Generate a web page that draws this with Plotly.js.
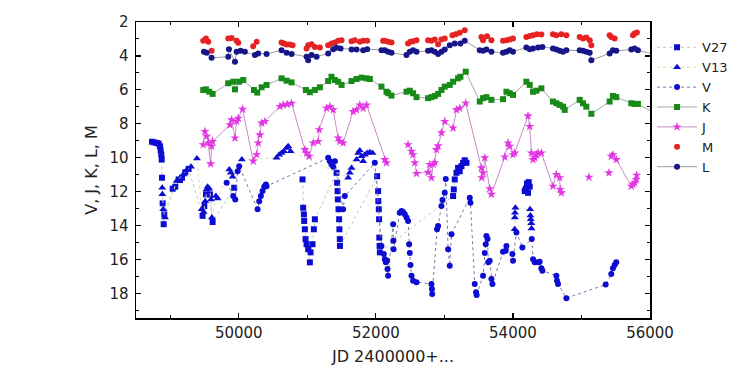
<!DOCTYPE html>
<html>
<head>
<meta charset="utf-8">
<script src="https://cdn.plot.ly/plotly-3.0.1.min.js"></script>
<style>html,body{margin:0;padding:0;background:#fff;}#chart{width:756px;height:382px;}</style>
</head>
<body>
<div id="chart"></div>
<script>
// ---- Data (JD 2400000+..., magnitude); null = gap in the connecting line ----
const v27JD = [48733,48767,48802,48831,48850,48860,48869,48875,48879,48889,48904,48913,49035,49073,49122,49142,49171,49219,49268,49472,49496,49521,49579,49618,49933,null,50930,50939,50950,50954,50964,50974,50989,51012,51037,51047,51076,51095,51110,51426,51435,51441,51445,51455,51464,51468,51474,51476,52019,52033,52036,52043,52047,52050,52054,52058,53127,53137,53151,53176,53200,53224,53249,53273,53297,53322,null,54172,54187,54205,54220,54230,54245];
const v27Mag = [9.06,9.10,9.13,9.17,9.33,9.57,9.82,10.11,11.18,12.69,13.92,13.34,11.83,11.71,11.28,11.32,11.18,10.86,10.66,13.43,12.85,12.16,12.16,13.79,11.77,null,11.28,12.95,13.34,13.73,14.22,14.80,15.10,15.39,16.17,15.58,15.10,14.22,13.63,10.89,11.48,11.97,12.46,13.04,13.63,14.22,14.80,15.20,11.09,11.97,12.56,13.04,13.63,14.71,15.20,15.58,12.26,11.87,11.28,10.89,10.60,10.80,10.50,10.30,10.15,10.30,null,11.97,11.83,11.52,12.07,11.44,11.71];

const v13JD = [48883,48885,48898,48923,49093,49190,49239,49302,49389,49458,49487,49510,49531,49545,49569,49594,49608,49666,49691,49861,49885,49910,50045,50551,50589,50624,50658,50697,50721,50756,51596,51620,51645,51718,51742,51766,51791,51815,51839,51873,51912,51951,null,54026,54028,54030,54036,54250,54255,54260,54268,54272];
const v13Mag = [11.77,12.16,13.04,13.53,11.38,10.99,10.74,10.54,10.05,13.04,13.20,12.56,11.87,11.71,11.83,12.46,13.53,12.26,12.40,10.69,10.89,11.13,10.11,10.01,9.82,9.72,9.62,9.43,9.33,9.62,11.18,10.89,10.60,10.11,9.72,9.57,9.92,10.21,9.82,9.72,9.68,9.72,null,14.22,13.53,13.24,12.95,13.04,13.40,13.63,13.87,14.18];

const vJD = [49823,49919,49948,49983,50006,50274,50298,50322,50347,50371,50395,50405,51304,51329,51353,51377,51402,51522,51547,51985,52082,52116,52131,52145,52164,52170,52179,52252,52255,52258,52349,52374,52397,52422,52447,52470,52485,52495,52505,52520,52543,52593,52811,52818,52822,52893,52908,52957,52972,53005,53020,53054,53078,53103,53370,53380,53443,53462,53470,53564,53589,53603,53613,53630,53640,53661,53686,53701,53855,53895,53905,53992,54001,54051,54138,54275,54294,54318,54367,54390,54415,54430,54634,54643,54658,54780,55353,55435,55459,55484,55508];
const vMag = [11.48,12.26,12.46,10.80,10.50,13.04,12.56,12.26,11.97,11.71,11.58,11.68,10.01,10.21,10.40,10.54,10.21,13.04,12.26,10.30,15.20,15.68,15.98,16.17,16.07,16.56,16.96,13.92,14.90,15.39,13.24,13.14,13.20,13.34,13.53,13.73,15.10,15.62,16.33,16.96,17.25,17.34,17.44,17.74,18.03,14.22,14.02,12.85,12.50,12.07,11.25,15.39,16.37,14.51,12.36,12.65,17.44,17.93,18.09,16.96,15.62,15.10,14.61,14.80,16.17,16.07,17.15,17.44,15.55,15.49,15.20,15.68,16.07,14.41,15.29,14.80,15.98,16.17,16.17,16.13,16.52,16.66,16.96,17.25,17.44,18.28,17.48,16.86,16.52,16.33,16.17];

const kJD = [49481,49521,49569,49618,49846,49919,49944,50006,50065,50221,50269,50333,50405,50624,50697,50770,50979,51037,51110,51183,51304,51353,51402,51450,51499,51645,51718,51791,51864,51912,52082,52155,52179,52228,52447,52495,52543,52593,52762,52811,52859,52908,52957,53005,53078,53127,53200,53234,53311,53516,53564,53613,53686,53855,53905,53953,54001,54196,54245,54293,54342,54415,54584,54634,54682,54731,54755,54974,55022,55071,55144,55411,55459,55508,55727,55776,55824,56100];
const kMag = [6.01,5.97,6.11,6.24,5.61,5.52,5.97,5.52,5.42,6.01,6.16,5.85,5.71,5.32,5.46,5.56,6.01,6.14,6.01,5.85,5.48,5.23,5.42,5.52,5.71,5.48,5.36,5.28,5.32,5.36,5.81,6.11,6.20,6.34,6.11,6.05,6.20,6.43,6.49,6.43,6.36,6.24,6.01,5.81,5.71,5.52,5.32,5.23,4.93,6.69,6.49,6.43,6.59,6.55,6.11,6.20,6.30,5.52,5.71,6.11,6.05,5.91,6.69,6.79,6.89,6.99,7.18,6.59,6.79,6.99,7.41,6.69,6.36,6.43,6.79,6.83,6.83,7.45];

const jJD = [49481,49506,49531,49554,49589,49603,49618,49871,49895,49944,49968,49992,50055,50211,50260,50283,50308,50333,50381,50600,50648,50706,50770,50964,50989,51027,51085,51159,51173,51280,51329,51377,51450,51474,51522,51668,51718,51766,51815,51864,52131,52155,null,52470,52520,52543,52568,52593,52762,52787,52811,52835,52859,52884,52908,52957,53005,53127,53176,53224,53311,53540,53545,53564,53589,53661,53686,53880,53928,53953,54001,54026,54220,54245,54270,54294,54318,54342,54367,54415,54584,54634,54682,54690,54707,null,55110,null,55401,null,55435,55459,55508,55727,55751,55776,55800,55805];
const jMag = [9.23,8.45,8.74,9.13,10.36,9.32,9.04,8.06,7.77,8.84,7.86,7.67,7.14,10.20,9.82,9.13,8.65,7.96,7.86,6.98,6.89,6.85,6.79,9.52,9.72,9.92,9.13,9.04,8.35,7.08,6.98,7.18,8.84,9.04,9.13,7.28,7.18,6.89,7.08,6.89,10.11,10.30,null,9.23,9.62,9.82,10.30,10.93,10.86,10.40,11.18,10.40,10.30,9.52,9.30,8.53,7.86,8.25,7.18,7.08,6.79,10.60,11.18,10.89,10.01,11.83,12.16,9.96,9.13,9.33,9.82,9.72,7.53,8.16,9.72,10.11,10.01,9.82,9.72,9.72,11.68,10.99,11.18,11.87,12.07,null,11.15,null,10.89,null,9.92,9.82,10.11,11.68,11.58,11.48,11.28,11.03];

const mJD = [49481,49521,49554,49603,49846,49895,49968,49992,50211,50260,50624,50658,50697,50745,50785,50989,51012,51062,51110,51183,51304,51353,51402,51450,51499,51645,51693,51766,51815,51873,52106,52131,52179,52228,52470,52505,52543,52593,52762,52811,52859,52908,52957,53005,53117,53166,53224,53297,53540,53564,53622,53686,53855,53905,53953,54001,54196,54245,54293,54351,54415,54584,54634,54707,54780,54974,55022,55071,55120,55144,55411,55435,55484,55751,55776,55809];
const mMag = [3.11,2.97,3.17,3.70,2.97,2.94,3.11,3.23,3.43,3.17,3.21,3.27,3.33,3.33,3.37,3.56,3.37,3.31,3.47,3.50,3.37,3.27,3.21,3.11,3.07,3.13,3.07,3.17,3.11,3.11,3.11,3.11,3.17,3.21,3.27,3.17,3.13,3.07,3.07,3.11,3.03,3.31,3.03,2.97,2.78,2.72,2.64,2.49,2.88,3.07,2.84,3.07,3.11,3.07,3.03,2.97,2.88,2.82,2.78,2.72,2.74,2.72,2.78,2.72,2.78,2.88,2.97,2.91,3.07,3.37,2.78,2.88,2.97,2.78,2.68,2.62];

const lJD = [49491,49531,49603,49846,49856,49944,49968,50026,50089,50235,50283,50405,50624,50697,50770,50989,51012,51062,51135,51304,51377,51426,51485,51645,51718,51815,51873,52082,52131,52179,52228,52447,52495,52543,52593,52762,52811,52859,52908,52957,53005,53078,53151,53234,53297,53516,53564,53613,53686,53855,53905,53953,54001,54196,54245,54293,54366,54430,54584,54634,54682,54731,54780,54974,55022,55071,55120,55144,55411,55459,55508,55727,55776,55824,56100];
const lMag = [3.76,3.82,4.11,4.05,3.60,4.35,3.76,3.70,3.76,3.95,3.85,3.89,3.66,3.82,3.89,4.05,4.25,3.95,4.05,3.85,3.60,3.52,3.56,3.62,3.62,3.66,3.60,3.66,3.66,3.76,3.82,3.95,3.76,3.66,3.76,3.70,3.66,3.76,3.89,3.76,3.62,3.37,3.27,3.27,3.11,3.66,3.70,3.62,3.76,3.82,3.76,3.66,3.76,3.50,3.60,3.56,3.50,3.47,3.56,3.62,3.70,3.76,3.66,3.66,3.70,3.76,3.82,4.25,3.85,3.66,3.70,3.62,3.56,3.66,3.95];

const seriesNames = ['V27','V13','V','K','J','M','L'];

// ---- Styles ----
const FONT = 'DejaVu Sans, Liberation Sans, Arial, sans-serif';
const cV = '#0c0cd2';

const traces = [
  {name: seriesNames[0], x: v27JD, y: v27Mag, type: 'scatter', mode: 'lines+markers', connectgaps: false,
   line: {color: '#c4c4c4', width: 1, dash: 'dot'},
   marker: {symbol: 'square', size: 6, color: cV}},
  {name: seriesNames[1], x: v13JD, y: v13Mag, type: 'scatter', mode: 'lines+markers', connectgaps: false,
   line: {color: '#dcdca8', width: 1, dash: 'dot'},
   marker: {symbol: 'triangle-up', size: 7, color: cV}},
  {name: seriesNames[2], x: vJD, y: vMag, type: 'scatter', mode: 'lines+markers',
   line: {color: '#7878a8', width: 1, dash: 'dot'},
   marker: {symbol: 'circle', size: 6, color: cV}},
  {name: seriesNames[3], x: kJD, y: kMag, type: 'scatter', mode: 'lines+markers',
   line: {color: '#a8a8a8', width: 1},
   marker: {symbol: 'square', size: 6, color: '#178a17'}},
  {name: seriesNames[4], x: jJD, y: jMag, type: 'scatter', mode: 'lines+markers', connectgaps: false,
   line: {color: '#c88cc8', width: 1},
   marker: {symbol: 'star', size: 7, color: '#e336e3'}},
  {name: seriesNames[5], x: mJD, y: mMag, type: 'scatter', mode: 'markers',
   marker: {symbol: 'circle', size: 6, color: '#e62222'}},
  {name: seriesNames[6], x: lJD, y: lMag, type: 'scatter', mode: 'lines+markers',
   line: {color: '#9c9c9c', width: 1},
   marker: {symbol: 'circle', size: 6, color: '#161688'}}
];

const axisCommon = {
  showline: true, linecolor: '#000', linewidth: 1.5, mirror: 'ticks',
  ticks: 'inside', ticklen: 5, tickwidth: 1.2, tickcolor: '#000',
  showgrid: false, zeroline: false,
  tickfont: {family: FONT, size: 15, color: '#222'}
};

const layout = {
  width: 756, height: 382,
  margin: {l: 136, r: 106, t: 22, b: 64},
  paper_bgcolor: '#fff', plot_bgcolor: '#fff',
  font: {family: FONT, color: '#222'},
  showlegend: true,
  legend: {x: 1.004, xanchor: 'left', y: 0.965, yanchor: 'top',
           font: {family: FONT, size: 13, color: '#222'},
           itemwidth: 40, bgcolor: 'rgba(0,0,0,0)', borderwidth: 0, tracegroupgap: 0},
  xaxis: Object.assign({}, axisCommon, {
    range: [48500, 56000], tick0: 0, dtick: 2000, tickformat: 'd',
    minor: {dtick: 1000, ticks: 'inside', ticklen: 3, tickcolor: '#000', tickwidth: 1},
    title: {text: 'JD 2400000+...', font: {family: FONT, size: 16, color: '#222'}, standoff: 10}
  }),
  yaxis: Object.assign({}, axisCommon, {
    range: [19.45, 2], tick0: 0, dtick: 2,
    minor: {dtick: 1, ticks: 'inside', ticklen: 3, tickcolor: '#000', tickwidth: 1},
    ticklabelstandoff: 3,
    title: {text: 'V, J, K, L, M', font: {family: FONT, size: 16, color: '#222'}, standoff: 8}
  })
};

Plotly.newPlot('chart', traces, layout, {displayModeBar: false, staticPlot: true});
</script>
</body>
</html>
